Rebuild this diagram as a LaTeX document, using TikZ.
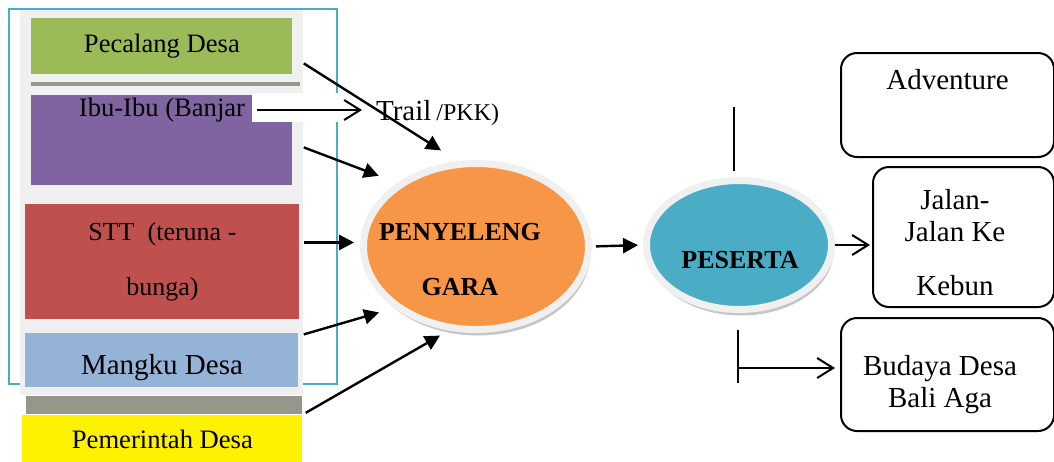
\documentclass[tikz,border=0pt]{standalone}
\usepackage{fontspec}
\setmainfont{Liberation Serif}
\usepackage{xcolor}
\usepackage{tikz}
\usetikzlibrary{arrows.meta,positioning,calc,shapes.geometric,shadows}
\definecolor{pclgreen}{HTML}{9BBB59}
\definecolor{ibupurple}{HTML}{8064A2}
\definecolor{sttred}{HTML}{C0504D}
\definecolor{mkublue}{HTML}{95B3D7}
\definecolor{stripgray}{HTML}{96978A}
\definecolor{framecyan}{HTML}{4BACC6}
\definecolor{penorange}{HTML}{F79646}
\definecolor{panelgray}{HTML}{F0F0F0}

\begin{document}
\begin{tikzpicture}[x=0.5pt,y=-0.5pt,
 blk/.style={rectangle,inner sep=0pt,anchor=north west},
 rbox/.style={rectangle,rounded corners=8pt,draw,line width=1pt,inner sep=0pt,anchor=north west,fill=white},
 oval/.style={ellipse,draw=black!6,line width=3.5pt,inner sep=0pt,
  drop shadow={shadow xshift=1pt,shadow yshift=-3pt,opacity=.45}},
 lbl/.style={font=\fontsize{13.3}{16}\selectfont},
 big/.style={font=\fontsize{14.5}{16}\selectfont,align=center},
 bold/.style={font=\bfseries\fontsize{13}{27.5}\selectfont,align=center},
 arr/.style={-{Triangle[length=7.5pt,width=7.5pt]},line width=1.2pt},
 opn/.style={-{Straight Barb[length=8pt,width=10pt]},line width=1pt}]
\useasboundingbox (0,0) rectangle (1054,461);
\draw[framecyan,line width=1pt] (9,9) rectangle (337,384);
\fill[panelgray] (20,10) rectangle (303,395);
\fill[stripgray] (31,82) rectangle (300,86);
\node[blk,lbl,fill=pclgreen,minimum width=130.5pt,minimum height=28pt] (pcl) at (31,18) {Pecalang Desa};
\node[blk,fill=ibupurple,minimum width=130.5pt,minimum height=45pt] (ibu) at (31,95) {};
\node[blk,fill=sttred,minimum width=137pt,minimum height=57.5pt,align=center,font=\fontsize{13}{27.5}\selectfont] (stt) at (25,204) {STT\ \ (teruna -\\bunga)};
\node[blk,fill=mkublue,minimum width=136.5pt,minimum height=27pt] (mku) at (25,333) {};
\node[blk,fill=stripgray,minimum width=138pt,minimum height=9pt] (strip) at (26,396) {};
\node[blk,lbl,fill=yellow,minimum width=140pt,minimum height=23.5pt] (pmd) at (22,415) {Pemerintah Desa};
\fill[white] (252,93) rectangle (345,122);
\node[lbl] (ibutxt) at (162,110) {Ibu-Ibu (Banjar};
\node[big] (mkutxt) at (162,368) {Mangku Desa};
\node[anchor=west] (trail) at (369,113) {{\fontsize{14.5}{16}\selectfont Trail} {\fontsize{12}{14}\selectfont /PKK)}};

\node[oval,fill=penorange,minimum width=112.5pt,minimum height=83pt] (pen) at (476,246.5) {};
\node[bold] (pentxt) at (460,260) {PENYELENG\\GARA};
\node[oval,fill=framecyan,minimum width=92.5pt,minimum height=64.5pt] (pes) at (739,245) {};
\node[bold] (pestxt) at (740,260) {PESERTA};

\node[rbox,minimum width=106.5pt,minimum height=52pt] (adv) at (840,52) {};
\node[big,below=5pt of adv.north] (advtxt) {Adventure};
\node[rbox,minimum width=90.5pt,minimum height=70pt] (jal) at (872,166) {};
\node[big] (jaltxt) at (955,243) {Jalan-\\Jalan Ke\\[11pt]Kebun};
\node[rbox,minimum width=106.5pt,minimum height=56.5pt] (bud) at (840,317) {};
\node[big] (budtxt) at (940,385) {Budaya Desa\\Bali Aga};

\draw[opn,shorten <=2.5pt,shorten >=3.5pt] (ibutxt.east) -- (ibutxt.east -| trail.west);
\draw[arr,shorten >=10pt] ([shift={(11,17)}]pcl.east) -- (pen.102.6);
\draw[arr,shorten >=10pt] ([shift={(11,7)}]ibu.east) -- (pen.141.6);
\draw[arr,shorten <=2pt,shorten >=3pt] (stt.east |- pen.178) -- (pen.178);
\draw[arr,shorten >=8pt] ([shift={(5,-26)}]mku.east) -- (pen.217.8);
\draw[arr,shorten >=5pt] ([shift={(3,-2)}]strip.south east) -- (pen.252.6);
\draw[arr,shorten <=2pt,shorten >=2.5pt] (pen.east) -- (pes.west);
\draw[opn,shorten >=1pt] (pes.east) -- (pes.east -| jal.west);
\coordinate (ptop) at (734,107);
\draw[line width=0.8pt,shorten >=3pt] (ptop) -- (ptop |- pes.north);
\coordinate (ptick) at (738,368);
\draw[line width=1.4pt] ([shift={(0,-38)}]ptick) -- ([shift={(0,15)}]ptick);
\draw[opn,shorten >=2.5pt] (ptick) -- (ptick -| bud.west);
\end{tikzpicture}
\end{document}
